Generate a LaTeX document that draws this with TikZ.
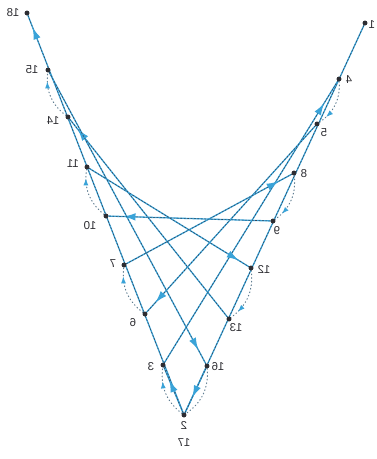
\documentclass[tikz,border=0pt]{standalone}
\usepackage{graphicx}
\usepackage{fontspec}
\setmainfont{Liberation Sans}
\usetikzlibrary{arrows.meta,decorations.markings}
\definecolor{lineblue}{RGB}{58,163,216}
\definecolor{dashdark}{RGB}{48,68,90}
\definecolor{hopgray}{RGB}{95,125,145}
\definecolor{labelgray}{RGB}{45,45,50}
\begin{document}
\begin{tikzpicture}[x=1pt,y=1pt,
  dot/.style={circle,fill=labelgray,inner sep=0pt,minimum size=4.5pt},
  lbl/.style={text=labelgray,font=\fontsize{11.5}{12}\selectfont,inner sep=0pt},
  ray/.style={draw=lineblue,line width=1.3pt,
    postaction={draw=dashdark,line width=0.55pt,dash pattern=on 1.8pt off 1.6pt}},
  tipat/.style={postaction={decorate,decoration={markings,
    mark=at position #1 with {\arrow{Latex[length=12pt,width=7.5pt,color=lineblue]}}}}},
  hop/.style={draw=hopgray,line width=1pt,dash pattern=on 0.8pt off 2.8pt,line cap=round},
  hoptip/.style={postaction={decorate,decoration={markings,
    mark=at position #1 with {\arrow{Latex[length=7pt,width=5pt,color=lineblue]}}}}}
]
\useasboundingbox (0,0) rectangle (377,-459);
% points
\node[dot] (p18) at (27,-13) {};
\node[dot] (p15) at (48,-70) {};
\node[dot] (p14) at (68,-117) {};
\node[dot] (p11) at (87,-167) {};
\node[dot] (p10) at (106,-216) {};
\node[dot] (p7) at (124,-265) {};
\node[dot] (p6) at (145,-314) {};
\node[dot] (p3) at (163,-365) {};
\node[dot] (p2) at (184,-415) {};
\node[dot] (p16) at (207,-366) {};
\node[dot] (p13) at (229,-319) {};
\node[dot] (p12) at (251,-268) {};
\node[dot] (p9) at (273,-221) {};
\node[dot] (p8) at (294,-173) {};
\node[dot] (p5) at (317,-124) {};
\node[dot] (p4) at (339,-79) {};
\node[dot] (p1) at (365,-23) {};
% branch lines
\draw[ray] (p1) -- (p2);
\draw[ray,tipat=-17pt] (p16) -- (p2);
\draw[ray,tipat=-13pt] (p2) -- (p18);
\draw[ray,tipat=-14pt] (p2) -- (p3);
% chords
\draw[ray,tipat=-26pt] (p3) -- (p4);
\draw[ray,tipat=-13pt] (p5) -- (p6);
\draw[ray,tipat=-15pt] (p7) -- (p8);
\draw[ray,tipat=-15pt] (p9) -- (p10);
\draw[ray,tipat=-12pt] (p11) -- (p12);
\draw[ray,tipat=-13pt] (p13) -- (p14);
\draw[ray,tipat=-16pt] (p15) -- (p16);
% dotted hops
\draw[hop,hoptip=-9pt] (p4) to[bend left=30] (p5);
\draw[hop,hoptip=-9pt] (p6) to[bend left=30] (p7);
\draw[hop,hoptip=-9pt] (p8) to[bend left=30] (p9);
\draw[hop,hoptip=-9pt] (p10) to[bend left=30] (p11);
\draw[hop,hoptip=-9pt] (p12) to[bend left=30] (p13);
\draw[hop,hoptip=-9pt] (p14) to[bend left=30] (p15);
\draw[hop] (p16) to[bend left=30] (p2);
\draw[hop,hoptip=-14pt] (p2) to[bend left=30] (p3);
% redraw dots on top
\foreach \p in {p18,p15,p14,p11,p10,p7,p6,p3,p2,p16,p13,p12,p9,p8,p5,p4,p1}
  \fill[labelgray] (\p) circle (2.4pt);
% labels (mirrored as printed)
\node[lbl] (l18) at (13,-13) {\reflectbox{18}};
\node[lbl] (l15) at (32,-70) {\reflectbox{15}};
\node[lbl] (l14) at (53,-121) {\reflectbox{14}};
\node[lbl] (l11) at (73,-164) {\reflectbox{11}};
\node[lbl] (l10) at (90,-226) {\reflectbox{10}};
\node[lbl] (l7) at (113,-264) {\reflectbox{7}};
\node[lbl] (l6) at (133,-323) {\reflectbox{6}};
\node[lbl] (l3) at (151,-367) {\reflectbox{3}};
\node[lbl] (l2) at (184,-425) {\reflectbox{2}};
\node[lbl] (l17) at (184,-443) {\reflectbox{17}};
\node[lbl] (l16) at (218,-367) {\reflectbox{16}};
\node[lbl] (l13) at (236,-328) {\reflectbox{13}};
\node[lbl] (l12) at (264,-269) {\reflectbox{12}};
\node[lbl] (l9) at (277,-231) {\reflectbox{9}};
\node[lbl] (l8) at (304,-174) {\reflectbox{8}};
\node[lbl] (l5) at (324,-133) {\reflectbox{5}};
\node[lbl] (l4) at (349,-80) {\reflectbox{4}};
\node[lbl] (l1) at (372,-25) {\reflectbox{1}};
\end{tikzpicture}
\end{document}
